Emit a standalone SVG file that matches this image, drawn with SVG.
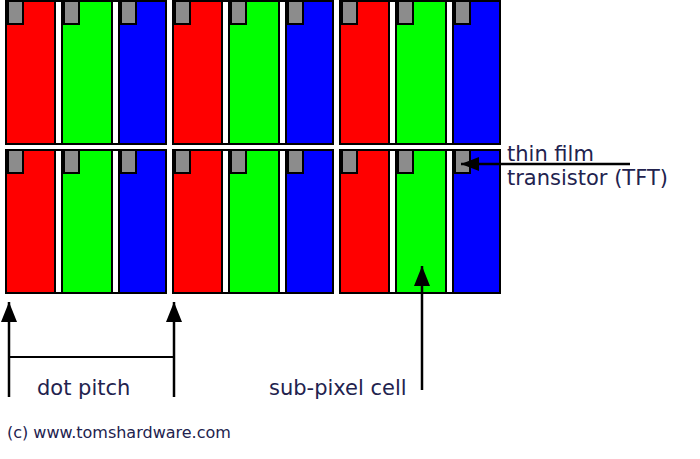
<svg xmlns="http://www.w3.org/2000/svg" xmlns:xlink="http://www.w3.org/1999/xlink" width="700" height="459" viewBox="0 0 700 459">
  <style>
    .lbl { font-family: "DejaVu Sans", Verdana, sans-serif; font-size: 21px; fill: #22224e; }
    .copy { font-family: "DejaVu Sans", Verdana, sans-serif; font-size: 16px; fill: #22224e; }
    .ln { stroke: #000; stroke-width: 2.5; fill: none; }
    .thin { stroke: #000; stroke-width: 1.8; fill: none; }
    .tft { fill: #8c8c8c; stroke: #000; stroke-width: 2; }
  </style>
  <defs>
    <marker id="ah" markerUnits="userSpaceOnUse" markerWidth="22" markerHeight="16" refX="20" refY="8" orient="auto">
      <path d="M0,0 L20,8 L0,16 Z" fill="#000"/>
    </marker>
    <marker id="ahs" markerUnits="userSpaceOnUse" markerWidth="20" markerHeight="14" refX="18" refY="7" orient="auto">
      <path d="M0,0 L18,7 L0,14 Z" fill="#000"/>
    </marker>
    <g id="pixel">
      <rect x="0" y="0" width="162" height="145" fill="#000"/>
      <rect x="2" y="2" width="47" height="141" fill="#ff0000"/>
      <rect x="51" y="2" width="5" height="141" fill="#fff"/>
      <rect x="58" y="2" width="48" height="141" fill="#00ff00"/>
      <rect x="108" y="2" width="5" height="141" fill="#fff"/>
      <rect x="115" y="2" width="45" height="141" fill="#0000ff"/>
      <rect class="tft" x="3" y="1" width="15" height="23"/>
      <rect class="tft" x="59" y="1" width="15" height="23"/>
      <rect class="tft" x="116" y="1" width="15" height="23"/>
    </g>
  </defs>
  <rect width="700" height="459" fill="#fff"/>

  <g id="pixel-r1c1"><use xlink:href="#pixel" x="5" y="0"/></g>
  <g id="pixel-r1c2"><use xlink:href="#pixel" x="172" y="0"/></g>
  <g id="pixel-r1c3"><use xlink:href="#pixel" x="339" y="0"/></g>
  <g id="pixel-r2c1"><use xlink:href="#pixel" x="5" y="149"/></g>
  <g id="pixel-r2c2"><use xlink:href="#pixel" x="172" y="149"/></g>
  <g id="pixel-r2c3"><use xlink:href="#pixel" x="339" y="149"/></g>

  <g id="connectors">
    <line class="ln" x1="630" y1="164" x2="461" y2="164" marker-end="url(#ahs)"/>
    <line class="ln" x1="422" y1="390" x2="422" y2="266" marker-end="url(#ah)"/>
    <line class="ln" x1="9" y1="397" x2="9" y2="302" marker-end="url(#ah)"/>
    <line class="ln" x1="174" y1="397" x2="174" y2="302" marker-end="url(#ah)"/>
    <line class="thin" x1="9" y1="357" x2="174" y2="357"/>
  </g>

  <g id="labels">
    <text class="lbl" x="507" y="161">thin film</text>
    <text class="lbl" x="507" y="185">transistor (TFT)</text>
    <text class="lbl" x="37" y="395">dot pitch</text>
    <text class="lbl" x="269" y="395">sub-pixel cell</text>
    <text class="copy" x="7" y="438">(c) www.tomshardware.com</text>
  </g>
</svg>
